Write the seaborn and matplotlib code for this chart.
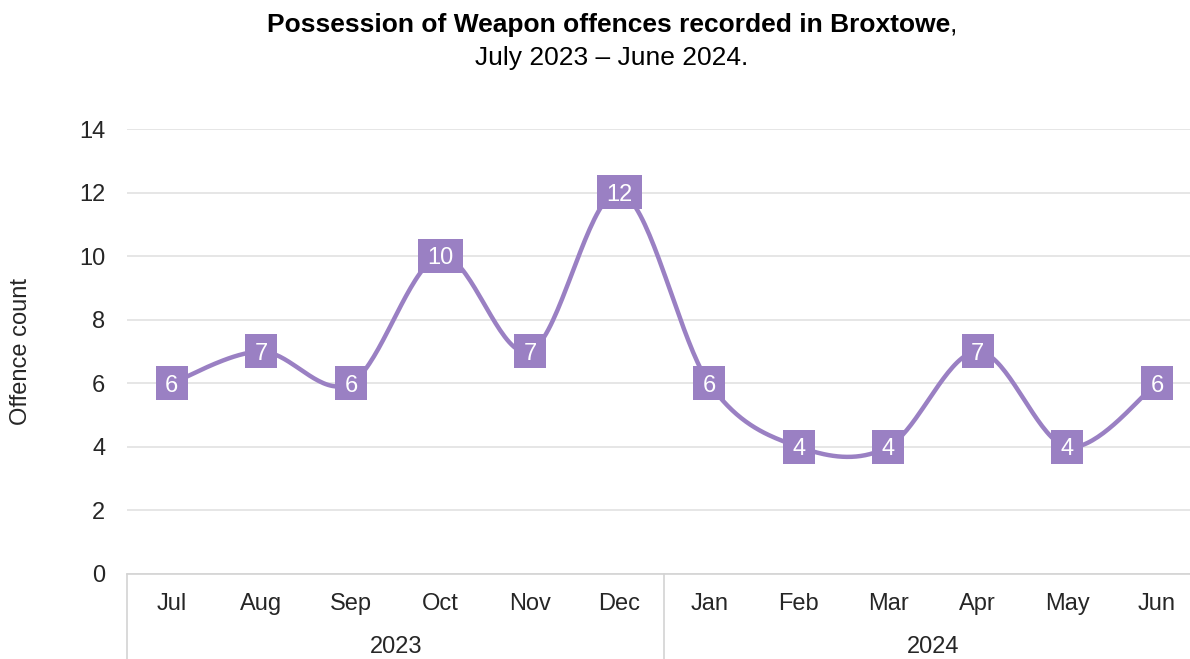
import numpy as np
import matplotlib
matplotlib.use("Agg")
import matplotlib.pyplot as plt
import matplotlib.transforms as mtransforms
from matplotlib.path import Path
import seaborn as sns

# Monthly counts, July 2023 to June 2024
months = ["Jul", "Aug", "Sep", "Oct", "Nov", "Dec",
          "Jan", "Feb", "Mar", "Apr", "May", "Jun"]
years = ["2023", "2024"]
year_first_month = [0, 6]
year_last_month = [5, 11]
counts = [6, 7, 6, 10, 7, 12, 6, 4, 4, 7, 4, 6]
y_ticks = [0, 2, 4, 6, 8, 10, 12, 14]

PURPLE = "#9a80c3"
GRID = "#e2e2e2"
AXIS = "#d3d3d3"
TEXT = "#262626"
FS = 17

sns.set_theme(style="white")
plt.rcParams["font.family"] = ["Liberation Sans", "DejaVu Sans"]


def smoothed(xs, ys, steps=40):
    """Cubic Bezier smoothing (Catmull-Rom tangents, 1/6 factor) through the points."""
    pts = np.column_stack([xs, ys]).astype(float)
    padded = np.vstack([pts[0], pts, pts[-1]])
    t = np.linspace(0.0, 1.0, steps)[1:][:, None]
    out = [pts[:1]]
    for i in range(len(pts) - 1):
        p0, p1, p2, p3 = padded[i], padded[i + 1], padded[i + 2], padded[i + 3]
        c1 = p1 + (p2 - p0) / 6.0
        c2 = p2 - (p3 - p1) / 6.0
        seg = ((1 - t) ** 3) * p1 + 3 * (1 - t) ** 2 * t * c1 \
            + 3 * (1 - t) * t ** 2 * c2 + t ** 3 * p2
        out.append(seg)
    return np.vstack(out)


def label_box(x0, y0, width, height, mutation_size):
    """Flat rectangle round a data label, fixed height, padded sideways."""
    padx = 9.5
    h = 34.0
    cx = x0 + width / 2.0
    cy = y0 + height / 2.0 + 0.1 * mutation_size
    l, r = cx - width / 2.0 - padx, cx + width / 2.0 + padx
    b, t = cy - h / 2.0, cy + h / 2.0
    return Path([(l, b), (r, b), (r, t), (l, t), (l, b)],
                [Path.MOVETO, Path.LINETO, Path.LINETO, Path.LINETO, Path.CLOSEPOLY])


W, H = 1190, 659
fig = plt.figure(figsize=(W / 100, H / 100), dpi=100)
ax = fig.add_axes([127 / W, 85 / H, (1201.7 - 127) / W, 445 / H])

x_pos = np.arange(len(months))
curve = smoothed(x_pos, counts)
sns.lineplot(x=curve[:, 0], y=curve[:, 1], sort=False, estimator=None,
             color=PURPLE, linewidth=3.2, ax=ax, zorder=3)

for xi, v in zip(x_pos, counts):
    ax.annotate(str(v), xy=(xi, v), xytext=(0, -1.6), textcoords="offset points",
                ha="center", va="center", color="white", fontsize=FS, zorder=5,
                bbox=dict(boxstyle=label_box, facecolor=PURPLE, edgecolor="none"))

ax.set_xlim(-0.5, 11.5)
ax.set_ylim(0, 14)
ax.set_yticks(y_ticks)
ax.set_xticks(x_pos, months)
ax.tick_params(axis="y", length=0, pad=15.5, labelsize=FS, labelcolor=TEXT)
ax.tick_params(axis="x", length=0, pad=14, labelsize=FS, labelcolor=TEXT)
ax.yaxis.grid(True, color=GRID, linewidth=1.2)
ax.xaxis.grid(False)
for side in ["top", "right", "left"]:
    ax.spines[side].set_visible(False)
ax.spines["bottom"].set_color(AXIS)
ax.spines["bottom"].set_linewidth(1.2)

# Two-level category axis: year groups under the months
trans = mtransforms.blended_transform_factory(ax.transData, ax.transAxes)
for edge in [-0.5, 5.5, 11.5]:
    ax.plot([edge, edge], [0, -0.2], transform=trans, color=AXIS,
            linewidth=1.2, clip_on=False)
for yr, a, b in zip(years, year_first_month, year_last_month):
    ax.text((a + b) / 2, -0.165, yr, transform=trans, ha="center", va="center",
            fontsize=FS, color=TEXT)

ax.set_ylabel("Offence count", fontsize=FS, color=TEXT)
ax.yaxis.set_label_coords(-0.088, 0.5)

# Title: bold lead, plain comma, then the period on a second line
t1 = fig.text(0, 1 - 25 / H, "Possession of Weapon offences recorded in Broxtowe",
              fontsize=19, fontweight="bold", color="black", va="center", ha="left")
t2 = fig.text(0, 1 - 25 / H, ",", fontsize=19, color="black", va="center", ha="left")
fig.text(612 / W, 1 - 58 / H, "July 2023 \u2013 June 2024.", fontsize=19,
         color="black", va="center", ha="center")
fig.canvas.draw()
r = fig.canvas.get_renderer()
w1 = t1.get_window_extent(r).width
w2 = t2.get_window_extent(r).width
start = 612 - (w1 + w2) / 2
t1.set_x(start / W)
t2.set_x((start + w1) / W)

fig.savefig("out.png", dpi=100)
